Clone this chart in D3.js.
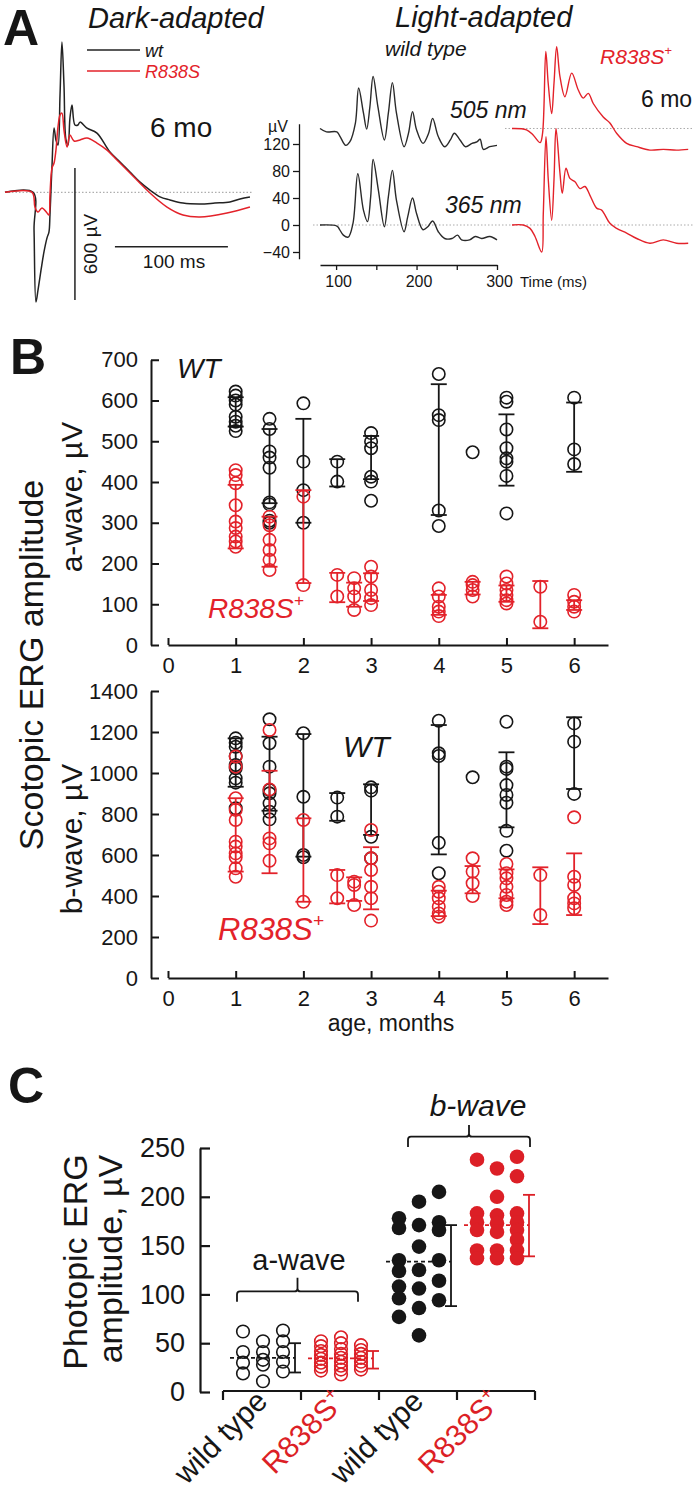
<!DOCTYPE html>
<html><head><meta charset="utf-8">
<script src="https://cdn.jsdelivr.net/npm/d3@7"></script>
<style>body{margin:0;background:#fff}svg{display:block}</style>
</head><body><svg id="c" width="693" height="1491"></svg>
<script>
// ---------------- DATA ----------------
// Panel A, dark-adapted traces: [time ms, µV]
const darkWt = [[0,0],[24.8,0],[25.7,-171],[27.4,-499],[29.2,-445],[31.9,-353],[34.5,-271],[37.2,-207],[38.9,-181],[39.8,-103],[40.7,10],[41.6,120],[43.4,292],[45.1,238],[46.9,215],[48.7,442],[50.4,683],[52.2,488],[54,238],[55.8,215],[57.5,338],[59.3,397],[61.9,306],[64.6,306],[66.4,319],[72.6,292],[81.4,269],[92.9,183],[101.8,138],[110.6,92],[119.5,46],[128.3,10],[137.2,-21],[146,-35],[157.5,-49],[172.6,-53],[185.8,-49],[199.1,-44],[208,-30],[216.8,-21]];
const darkR838S = [[0,0],[23.9,0],[26.5,-67],[29.2,-90],[32.7,-71],[37.2,-94],[38.9,-103],[39.8,-12],[41.6,110],[43.4,133],[45.1,192],[46.9,297],[48.7,351],[50.4,360],[52.2,283],[54.9,206],[57.5,260],[61.1,233],[66.4,238],[72.6,247],[81.4,224],[90.3,192],[99.1,147],[110.6,88],[128.3,-3],[143.4,-67],[157.5,-103],[172.6,-112],[196.5,-94],[216.8,-67]];
// Panel A, light-adapted traces: [time ms, µV]
const lightWt505 = [[80,0],[88,-5],[101,-5],[105,-12],[112,-25],[117,-20],[124,8],[128,60],[134,23],[138,-1],[142,32],[146,77],[152,32],[160,-17],[165,23],[170,68],[175,23],[184.5,-27],[190,-7],[195,25],[200,-2],[208,-22],[215,-7],[220,15],[227,-12],[235,-27],[242,-17],[247,-7],[254,-17],[261,-27],[269,-22],[275,-20],[279,-16],[283,-31],[291,-27],[300,-25]];
const lightWt365 = [[80,0],[101,-1.5],[104,-6],[109,-15],[115,-18],[121,2.5],[127,76],[134,22],[139,5],[143,42],[146,97],[152.5,52],[160,-2.5],[165,42],[170,81],[175,37],[184.5,-10],[189,12],[195,40],[200,17],[208,-7],[214,-2.5],[220,6],[227,-10],[235,-20],[244,-20],[251,-15],[256,-22],[266,-22],[273,-17],[281,-20],[291,-17],[300,-22]];
const lightR505 = [[80,0],[98,-2],[106.5,-10],[115,-21],[118,-7],[122,114],[125,67],[129.3,22],[132.2,67],[135.5,121],[139.6,77],[145.8,47],[154.2,82],[162.4,57],[168.6,45],[174.8,52],[181,37],[193.4,17],[201.7,8],[210,-7],[222.5,-22],[235,-27],[251.4,-32],[268,-31],[284.6,-32],[299,-31]];
const lightR365 = [[80,0],[94,0],[102.4,-5],[108.6,-17],[116.9,-40],[118.9,17],[122.2,131],[125.1,67],[129.3,7],[132.2,67],[134.7,143],[139.6,77],[142.5,47],[147.1,84],[152,69],[158.3,64],[164.5,54],[170.7,57],[176.9,44],[185.2,25],[191.4,22],[201.7,2.5],[210,-5],[222.5,-12],[235,-20],[251.4,-27],[268,-22],[284.6,-27],[299,-27]];
const offset505 = 143;
const lightYTicks = [-40,0,40,80,120];
const lightXTicks = [100,150,200,250,300];

// Panel B: scotopic ERG
const agesWT = [1,1.5,2,2.5,3,4,4.5,5,6];
const agesR = [1,1.5,2,2.5,2.75,3,4,4.5,5,5.5,6];
const aWaveWT = [[622,612,600,590,560,548,538,525],[555,530,475,460,435,350,345,305,300],[593,450,380,300],[450,401],[520,499,483,413,401,354],[665,564,552,330,292],[473],[607,597,529,483,458,450,415,323],[607,480,444]];
const aWaveWTbar = [[536,608],[348,530],[300,555],[389,456],[407,513],[319,640],null,[391,566],[425,595]];
const aWaveR = [[429,417,397,343,303,287,266,254,241],[315,294,258,233,209,184],[364,147],[172,119],[164,139,119,86],[192,168,135,115,98],[139,119,94,82,71],[155,147,135,119],[168,151,135,123,110,102],[143,57],[123,106,94,82]];
const aWaveRbar = [[237,393],[192,315],[152,380],[105,177],[94,153],[108,176],[74,123],[124,155],[106,146],[41,157],[86,110]];
const bWaveWT = [[1169,1148,1128,1083,1039,1023,974,953,828],[1262,1145,1031,917,901,852,811,774],[1194,884,600,589],[880,787],[930,914,689,584],[1255,1096,1083,660,511],[979],[1250,1031,1020,941,893,855,718,621],[1242,1153,898]];
const bWaveWTbar = [[933,1169],[816,1177],[592,1190],[767,902],[698,945],[603,1234],null,[735,1101],[922,1272]];
const bWaveR = [[1080,1031,877,820,771,665,641,608,589,535,494],[1210,920,681,657,572],[771,372],[502,389],[470,454,356],[722,584,527,445,389,280],[445,421,389,348,315,299],[584,519,462,400],[556,511,486,445,405,372,356],[502,307],[784,494,454,389,364,340]];
const bWaveRbar = [[519,877],[511,1011],[372,779],[364,527],[376,491],[335,638],[302,426],[413,546],[389,530],[263,540],[307,608]];
const ageTicks = [0,1,2,3,4,5,6];
const aTicks = [0,100,200,300,400,500,600,700];
const bTicks = [0,200,400,600,800,1000,1200,1400];

// Panel C: photopic ERG (columns of the dot plot)
const cCats = ["wild type","R838S","wild type","R838S"];
const photoAWT = [[62,41,30,19],[52,41,33,28,11],[63,52,41,31,21]];
const photoAR = [[52,47,42,38,34,30,26,22],[56,50,44,39,35,31,27,23,18],[48,43,39,35,31,27,23]];
const photoBWT = [[178,168,135,124,108,96,77],[195,171,149,125,106,86,58],[205,174,166,135,114,94]];
const photoBR = [[238,183,174,166,145,137],[229,200,181,173,164,145,137],[241,221,183,174,166,156,145,137]];
const photoMean = [35,34.5,133.5,171];
const photoBar = [[20,50],[24,42],[88,171],[139,202]];
const cTicks = [0,50,100,150,200,250];

// ---------------- DRAWING ----------------
const BLACK="#161616", RED="#e3222a", RED2="#dc1f26";
const F='"Liberation Sans", Arial, Helvetica, sans-serif';
const fmtInt=d3.format("d");
const svg=d3.select("#c").attr("font-family",F);

function txt(g,x,y,s,o={}){
  const t=g.append("text").attr("x",x).attr("y",y).text(s)
    .attr("font-size",o.size||16).attr("fill",o.color||BLACK)
    .attr("text-anchor",o.anchor||"start");
  if(o.italic)t.attr("font-style","italic");
  if(o.bold)t.attr("font-weight","bold");
  if(o.transform)t.attr("transform",o.transform);
  return t;
}
function rs(g,x,y,size,color,o={}){
  const t=g.append("text").attr("x",x).attr("y",y).attr("font-size",size).attr("fill",color)
    .attr("text-anchor",o.anchor||"start");
  if(o.italic)t.attr("font-style","italic");
  if(o.transform)t.attr("transform",o.transform);
  t.append("tspan").text("R838S");
  t.append("tspan").attr("font-size",size*0.62).attr("dy",-size*0.42).text("+");
  return t;
}
function styleAxis(g,size,sw){
  g.attr("font-family",F).attr("font-size",size);
  g.selectAll("path.domain").attr("stroke",BLACK).attr("stroke-width",sw);
  g.selectAll(".tick line").attr("stroke",BLACK).attr("stroke-width",sw);
  g.selectAll(".tick text").attr("fill",BLACK);
}

// ===== Panel A =====
const gA=svg.append("g");
txt(gA,3,45,"A",{size:50,bold:true});
txt(gA,88,28,"Dark-adapted",{size:29,italic:true});
txt(gA,395,27,"Light-adapted",{size:29,italic:true});

const xD=d3.scaleLinear([0,219.5],[5,253]);
const yD=d3.scaleLinear([0,600],[192.3,60.3]);
gA.append("line").attr("x1",xD(0)).attr("x2",xD(219.5)).attr("y1",yD(0)).attr("y2",yD(0))
  .attr("stroke","#9a9a9a").attr("stroke-width",1).attr("stroke-dasharray","1.5,2");
const lineD=d3.line().x(d=>xD(d[0])).y(d=>yD(d[1])).curve(d3.curveCatmullRom.alpha(0.5));
gA.append("path").datum(darkWt).attr("d",lineD).attr("fill","none").attr("stroke","#222").attr("stroke-width",1.5);
gA.append("path").datum(darkR838S).attr("d",lineD).attr("fill","none").attr("stroke",RED).attr("stroke-width",1.5);
// legend
gA.append("line").attr("x1",87).attr("x2",140).attr("y1",50).attr("y2",50).attr("stroke","#222").attr("stroke-width",1.5);
gA.append("line").attr("x1",87).attr("x2",140).attr("y1",71).attr("y2",71).attr("stroke",RED).attr("stroke-width",1.5);
txt(gA,145,57,"wt",{size:18,italic:true});
txt(gA,145,78,"R838S",{size:18,italic:true,color:RED});
txt(gA,150,137,"6 mo",{size:28});
// scale bars
gA.append("line").attr("x1",xD(61.9)).attr("x2",xD(61.9)).attr("y1",yD(110)).attr("y2",yD(-490)).attr("stroke","#222").attr("stroke-width",1.5);
gA.append("line").attr("x1",xD(97.3)).attr("x2",xD(197.3)).attr("y1",yD(-247)).attr("y2",yD(-247)).attr("stroke","#222").attr("stroke-width",1.5);
txt(gA,97,244,"600 µV",{size:19,anchor:"middle",transform:"rotate(-90,97,244)"});
txt(gA,174,268,"100 ms",{size:19,anchor:"middle"});

// light adapted
const xL=d3.scaleLinear([80,300],[320,497]);
const xLR=d3.scaleLinear([80,300],[512,689]);
const yL=d3.scaleLinear([-50,150],[258.75,123.75]);
gA.append("line").attr("x1",313).attr("x2",693).attr("y1",yL(0)).attr("y2",yL(0))
  .attr("stroke","#aaa").attr("stroke-width",1).attr("stroke-dasharray","1.5,2");
gA.append("line").attr("x1",505).attr("x2",693).attr("y1",yL(offset505)).attr("y2",yL(offset505))
  .attr("stroke","#aaa").attr("stroke-width",1).attr("stroke-dasharray","1.5,2");
const lineL=(xs,off)=>d3.line().x(d=>xs(d[0])).y(d=>yL(d[1]+off)).curve(d3.curveCatmullRom.alpha(0.5));
gA.append("path").datum(lightWt505).attr("d",lineL(xL,offset505)).attr("fill","none").attr("stroke","#2a2a2a").attr("stroke-width",1.4);
gA.append("path").datum(lightWt365).attr("d",lineL(xL,0)).attr("fill","none").attr("stroke","#2a2a2a").attr("stroke-width",1.4);
gA.append("path").datum(lightR505).attr("d",lineL(xLR,offset505)).attr("fill","none").attr("stroke",RED).attr("stroke-width",1.4);
gA.append("path").datum(lightR365).attr("d",lineL(xLR,0)).attr("fill","none").attr("stroke",RED).attr("stroke-width",1.4);
const axL=gA.append("g").attr("transform","translate(299,0)")
  .call(d3.axisLeft(yL).tickValues(lightYTicks).tickSize(6).tickSizeOuter(0).tickPadding(3));
styleAxis(axL,16,1.3);
const axLB=gA.append("g").attr("transform","translate(0,265)")
  .call(d3.axisBottom(xL).tickValues(lightXTicks).tickSize(5).tickSizeOuter(0).tickPadding(5.5)
    .tickFormat(d=>d%100===0?d:""));
styleAxis(axLB,16,1.3);
axLB.selectAll(".tick text").attr("dx",2);
txt(gA,268,132,"µV",{size:16});
txt(gA,520,287,"Time (ms)",{size:15});
txt(gA,385,56,"wild type",{size:21,italic:true});
rs(gA,600,64,21,RED,{italic:true});
txt(gA,450,118,"505 nm",{size:23,italic:true});
txt(gA,445,213,"365 nm",{size:23,italic:true});
txt(gA,641,107,"6 mo",{size:23});

// ===== Panel B =====
const gB=svg.append("g");
txt(gB,10,374,"B",{size:50,bold:true});
const xB=d3.scaleLinear([0,6.5],[168,608]);
const yA=d3.scaleLinear([0,700],[645,359.75]);
const yBw=d3.scaleLinear([0,1400],[978,691]);

function drawAxesB(y,ticks,x0y){
  const ay=gB.append("g").attr("transform","translate(151,0)")
    .call(d3.axisLeft(y).tickValues(ticks).tickFormat(fmtInt).tickSize(-8).tickSizeOuter(0).tickPadding(13));
  styleAxis(ay,22,2);
  const ax=gB.append("g").attr("transform",`translate(0,${x0y})`)
    .call(d3.axisBottom(xB).tickValues(ageTicks).tickFormat(fmtInt).tickSize(-7).tickSizeOuter(0).tickPadding(12));
  styleAxis(ax,22,2);
}
drawAxesB(yA,aTicks,yA(0));
drawAxesB(yBw,bTicks,yBw(0));

function drawGroups(ages,vals,bars,color,y){
  const g=gB.append("g");
  ages.forEach((a,i)=>{
    const cx=xB(a);
    if(bars[i]){
      const [lo,hi]=bars[i];
      g.append("line").attr("x1",cx).attr("x2",cx).attr("y1",y(lo)).attr("y2",y(hi)).attr("stroke",color).attr("stroke-width",1.8);
      [lo,hi].forEach(v=>g.append("line").attr("x1",cx-8).attr("x2",cx+8).attr("y1",y(v)).attr("y2",y(v)).attr("stroke",color).attr("stroke-width",1.8));
    }
    g.selectAll(null).data(vals[i]).join("circle").attr("cx",cx).attr("cy",d=>y(d)).attr("r",6.2)
      .attr("fill","none").attr("stroke",color).attr("stroke-width",1.6);
  });
}
drawGroups(agesWT,aWaveWT,aWaveWTbar,BLACK,yA);
drawGroups(agesR,aWaveR,aWaveRbar,RED,yA);
drawGroups(agesWT,bWaveWT,bWaveWTbar,BLACK,yBw);
drawGroups(agesR,bWaveR,bWaveRbar,RED,yBw);

txt(gB,177,378,"WT",{size:28,italic:true});
rs(gB,208,618,28,RED,{italic:true});
txt(gB,343,757,"WT",{size:30,italic:true});
rs(gB,218,940,31,RED,{italic:true});
txt(gB,43,665,"Scotopic ERG amplitude",{size:34,anchor:"middle",transform:"rotate(-90,43,665)"});
txt(gB,82,497,"a-wave, µV",{size:30,anchor:"middle",transform:"rotate(-90,82,497)"});
txt(gB,82,839,"b-wave, µV",{size:30,anchor:"middle",transform:"rotate(-90,82,839)"});
txt(gB,391,1031,"age, months",{size:23,anchor:"middle"});

// ===== Panel C =====
const gC=svg.append("g");
txt(gC,8,1103,"C",{size:50,bold:true});
const yC=d3.scaleLinear([0,250],[1392,1148]);
const xC=d3.scaleBand(d3.range(cCats.length),[223,535]);
const axC=gC.append("g").attr("transform","translate(200,0)")
  .call(d3.axisLeft(yC).tickValues(cTicks).tickSize(-10).tickSizeOuter(0).tickPadding(15));
styleAxis(axC,27,2.2);
const xEdges=[...xC.domain().map(d=>xC(d)),xC(cCats.length-1)+xC.bandwidth()];
gC.append("line").attr("x1",xEdges[0]).attr("x2",xEdges[xEdges.length-1]).attr("y1",1391).attr("y2",1391).attr("stroke",BLACK).attr("stroke-width",2.2);
gC.selectAll(null).data(xEdges).join("line").attr("x1",d=>d).attr("x2",d=>d).attr("y1",1391).attr("y2",1400).attr("stroke",BLACK).attr("stroke-width",2.2);
cCats.forEach((c,i)=>{
  const cx=xC(i)+xC.bandwidth()/2+7, cy=1403;
  const col=i%2===0?BLACK:RED2;
  if(c==="wild type") txt(gC,cx,cy,c,{size:30,anchor:"end",color:col,transform:`rotate(-45,${cx},${cy})`});
  else rs(gC,cx,cy,30,col,{anchor:"end",transform:`rotate(-45,${cx},${cy})`});
});
const groupsC=[[photoAWT,BLACK,false,6.3],[photoAR,RED2,false,6.3],[photoBWT,BLACK,true,7.3],[photoBR,RED2,true,7.3]];
groupsC.forEach(([cols,color,filled,r],i)=>{
  const c=xC(i)+xC.bandwidth()/2;
  const g=gC.append("g");
  cols.forEach((vals,j)=>{
    const cx=c+1+(j-(cols.length-1)/2)*20;
    g.selectAll(null).data(vals).join("circle").attr("cx",cx).attr("cy",d=>yC(d)).attr("r",r)
      .attr("fill",filled?color:"none").attr("stroke",color).attr("stroke-width",filled?0:1.6);
  });
  const bx=c+33;
  g.append("line").attr("x1",c-32).attr("x2",bx).attr("y1",yC(photoMean[i])).attr("y2",yC(photoMean[i]))
    .attr("stroke",color).attr("stroke-width",1.8).attr("stroke-dasharray","4,3");
  const [lo,hi]=photoBar[i];
  g.append("line").attr("x1",bx).attr("x2",bx).attr("y1",yC(lo)).attr("y2",yC(hi)).attr("stroke",color).attr("stroke-width",1.8);
  [lo,hi].forEach(v=>g.append("line").attr("x1",bx-6).attr("x2",bx+6).attr("y1",yC(v)).attr("y2",yC(v)).attr("stroke",color).attr("stroke-width",1.8));
});
function bracket(x1,x2,xm,vy,vEnd,vTop){
  const y=yC(vy),ye=yC(vEnd),yt=yC(vTop);
  gC.append("path").attr("d",`M${x1},${ye}L${x1},${y+3}Q${x1},${y} ${x1+3},${y}L${xm-3},${y}Q${xm},${y} ${xm},${y-3}L${xm},${yt}M${xm},${y-3}Q${xm},${y} ${xm+3},${y}L${x2-3},${y}Q${x2},${y} ${x2},${y+3}L${x2},${ye}`)
    .attr("fill","none").attr("stroke",BLACK).attr("stroke-width",1.8);
}
const c0=xC(0)+xC.bandwidth()/2, c1=xC(1)+xC.bandwidth()/2, c2=xC(2)+xC.bandwidth()/2, c3=xC(3)+xC.bandwidth()/2;
bracket(c0-25,c1+18,(c0-25+c1+18)/2,103,92.5,117);
bracket(c2-10,c3+34,(c2-10+c3+34)/2,261.6,251,273.6);
txt(gC,299,yC(125),"a-wave",{size:29,anchor:"middle"});
txt(gC,478,yC(282.8),"b-wave",{size:30,anchor:"middle",italic:true});
txt(gC,87,1262,"Photopic ERG",{size:34,anchor:"middle",transform:"rotate(-90,87,1262)"});
txt(gC,122,1259,"amplitude, µV",{size:34,anchor:"middle",transform:"rotate(-90,122,1259)"});
</script></body></html>
